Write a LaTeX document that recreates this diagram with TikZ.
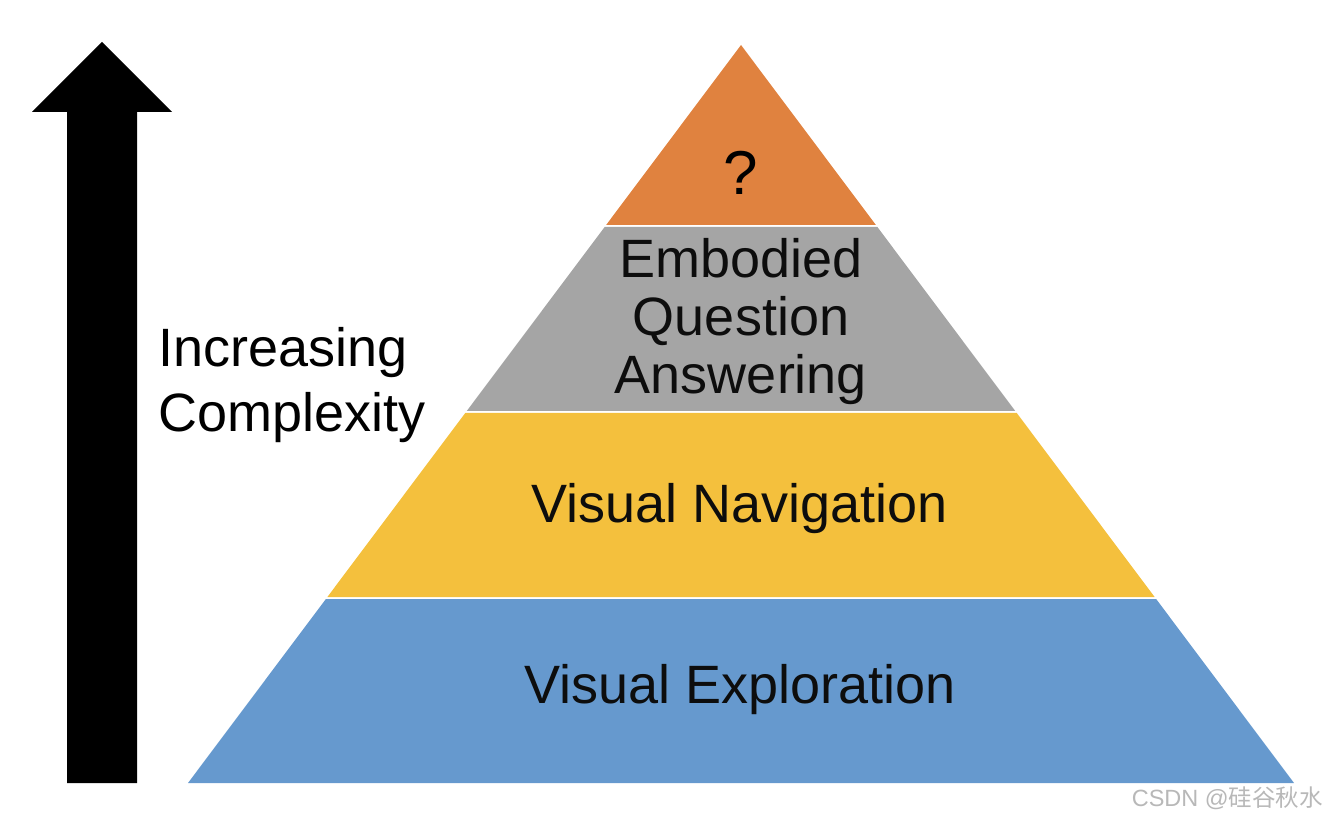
\documentclass[tikz,border=0pt]{standalone}
\usepackage{fontspec}
\setmainfont{Liberation Sans}
\newfontfamily\cjkfont{Noto Sans CJK SC}
\usetikzlibrary{calc}
\definecolor{topor}{HTML}{E0823F}
\definecolor{laygray}{HTML}{A5A5A5}
\definecolor{layyel}{HTML}{F4C03D}
\definecolor{layblue}{HTML}{6699CE}
\definecolor{wmgray}{HTML}{B8B8B8}
\tikzset{
  layer/.style={draw=none},
  laytext/.style={inner sep=0pt, text=black!95, font=\fontsize{54}{58}\selectfont, align=center},
}
\begin{document}
\begin{tikzpicture}[x=1pt,y=-1pt]
\useasboundingbox (0,0) rectangle (1330,818);
% pyramid corners
\coordinate (apex) at (741,45);
\coordinate (bl) at (188,783);
\coordinate (br) at (1294,783);
% layer boundaries
\coordinate (l1a) at ($(apex)!0.2439!(bl)$); \coordinate (r1a) at ($(apex)!0.2439!(br)$);
\coordinate (l1b) at ($(apex)!0.2466!(bl)$); \coordinate (r1b) at ($(apex)!0.2466!(br)$);
\coordinate (l2a) at ($(apex)!0.4959!(bl)$); \coordinate (r2a) at ($(apex)!0.4959!(br)$);
\coordinate (l2b) at ($(apex)!0.4986!(bl)$); \coordinate (r2b) at ($(apex)!0.4986!(br)$);
\coordinate (l3a) at ($(apex)!0.7480!(bl)$); \coordinate (r3a) at ($(apex)!0.7480!(br)$);
\coordinate (l3b) at ($(apex)!0.7507!(bl)$); \coordinate (r3b) at ($(apex)!0.7507!(br)$);
% layers
\fill[layer, topor] (apex) -- (r1a) -- (l1a) -- cycle;
\fill[layer, laygray] (l1b) -- (r1b) -- (r2a) -- (l2a) -- cycle;
\fill[layer, layyel] (l2b) -- (r2b) -- (r3a) -- (l3a) -- cycle;
\fill[layer, layblue] (l3b) -- (r3b) -- (br) -- (bl) -- cycle;
% arrow
\fill[black] (67,783) -- (67,112) -- (32,112) -- (102,42) -- (172,112) -- (137,112) -- (137,783) -- cycle;
% texts
\node[inner sep=0pt, font=\fontsize{62}{62}\selectfont, anchor=base] (q) at (741,195) {?};
\node[laytext, anchor=north] (eqa) at (741,238) {Embodied\\Question\\Answering};
\node[laytext, anchor=base] (vn) at (740,522) {Visual Navigation};
\node[laytext, anchor=base] (ve) at (740,703) {Visual Exploration};
\node[inner sep=0pt, anchor=north west, align=left, font=\fontsize{54}{65}\selectfont] (inc) at (158,327) {Increasing\\Complexity};
\node[inner sep=0pt, anchor=base east, text=wmgray, font=\fontsize{23.5}{23.5}\selectfont] (wm) at (1323,806) {CSDN @{\cjkfont 硅谷秋水}};
\end{tikzpicture}
\end{document}
